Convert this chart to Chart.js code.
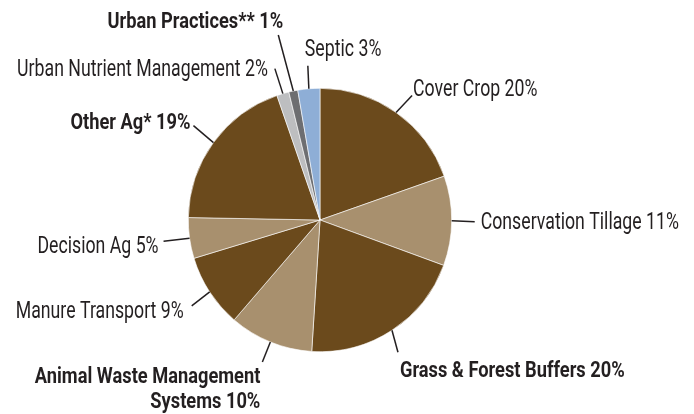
<!DOCTYPE html>
<html>
<head>
<meta charset="utf-8">
<script src="https://cdn.jsdelivr.net/npm/chart.js@4.4.0/dist/chart.umd.min.js"></script>
<style>
html,body{margin:0;padding:0;background:#fff;}
#wrap{width:694px;height:414px;position:relative;}
</style>
</head>
<body>
<div id="wrap"><canvas id="c" width="694" height="414"></canvas></div>
<script>
const categories = ['Cover Crop','Conservation Tillage','Grass & Forest Buffers','Animal Waste Management Systems','Manure Transport','Decision Ag','Other Ag*','Urban Nutrient Management','Urban Practices**','Septic'];
const values = [19.6, 11, 20.4, 10.3, 9, 5, 19.4, 1.5, 1.1, 2.7];
const pctLabels = ['20%','11%','20%','10%','9%','5%','19%','2%','1%','3%'];
const colors = ['#6B4A1C','#A8906E','#6B4A1C','#A8906E','#6B4A1C','#A8906E','#6B4A1C','#BDBEC0','#6D6E71','#8EAED6'];

// label layout: leader end offset from arc edge, text offset from leader end, alignment, weight, line break
const labelLayout = [
  {end:[16,-17], txt:[1,1], align:'left', bold:false},
  {end:[23,1], txt:[6,7], align:'left', bold:false},
  {end:[6,22], txt:[2,25], align:'left', bold:true},
  {end:[-8,20], txt:[-2,21], align:'right', bold:true, breakAfter:3},
  {end:[-18,14], txt:[-8,12], align:'right', bold:false},
  {end:[-26,3], txt:[-5,12], align:'right', bold:false},
  {end:[-20,-17], txt:[-3,3], align:'right', bold:true},
  {end:[-8,-25], txt:[-7,7], align:'right', bold:false},
  {end:[-15,-56], txt:[5,-7], align:'right', bold:true},
  {end:[-1,-23], txt:[-3,-10], align:'left', bold:false}
];
const FONT = 'Roboto, "DejaVu Sans", sans-serif';
const REG = {font:'23px ' + FONT, squeeze:0.77};
const BOLD = {font:'bold 22px ' + FONT, squeeze:0.83};

const labelPlugin = {
  id:'pieLabels',
  afterDraw(chart){
    const ctx = chart.ctx;
    const meta = chart.getDatasetMeta(0);
    meta.data.forEach((arc, i) => {
      const L = labelLayout[i];
      const p = arc.getProps(['x','y','startAngle','endAngle','outerRadius'], true);
      const mid = (p.startAngle + p.endAngle)/2;
      const sx = p.x + Math.cos(mid)*p.outerRadius;
      const sy = p.y + Math.sin(mid)*p.outerRadius;
      const ex = sx + L.end[0], ey = sy + L.end[1];
      ctx.save();
      ctx.strokeStyle = '#231F20';
      ctx.lineWidth = 1.5;
      ctx.beginPath(); ctx.moveTo(sx,sy); ctx.lineTo(ex,ey); ctx.stroke();
      const full = categories[i] + ' ' + pctLabels[i];
      let lines = [full];
      if (L.breakAfter) {
        const w = full.split(' ');
        lines = [w.slice(0,L.breakAfter).join(' '), w.slice(L.breakAfter).join(' ')];
      }
      const F = L.bold ? BOLD : REG;
      ctx.font = F.font;
      ctx.fillStyle = '#231F20';
      ctx.textAlign = L.align;
      ctx.textBaseline = 'alphabetic';
      lines.forEach((t, k) => {
        ctx.save();
        ctx.translate(ex + L.txt[0], ey + L.txt[1] + k*25);
        ctx.scale(F.squeeze, 1);
        ctx.fillText(t, 0, 0);
        ctx.restore();
      });
      ctx.restore();
    });
  }
};

new Chart(document.getElementById('c'), {
  type:'pie',
  data:{labels:categories, datasets:[{data:values, backgroundColor:colors, borderColor:'#ffffff', borderWidth:0.6}]},
  options:{
    responsive:false, animation:false,
    layout:{padding:{left:188, right:242, top:88, bottom:62}},
    plugins:{legend:{display:false}, tooltip:{enabled:false}}
  },
  plugins:[labelPlugin]
});
</script>
</body>
</html>
